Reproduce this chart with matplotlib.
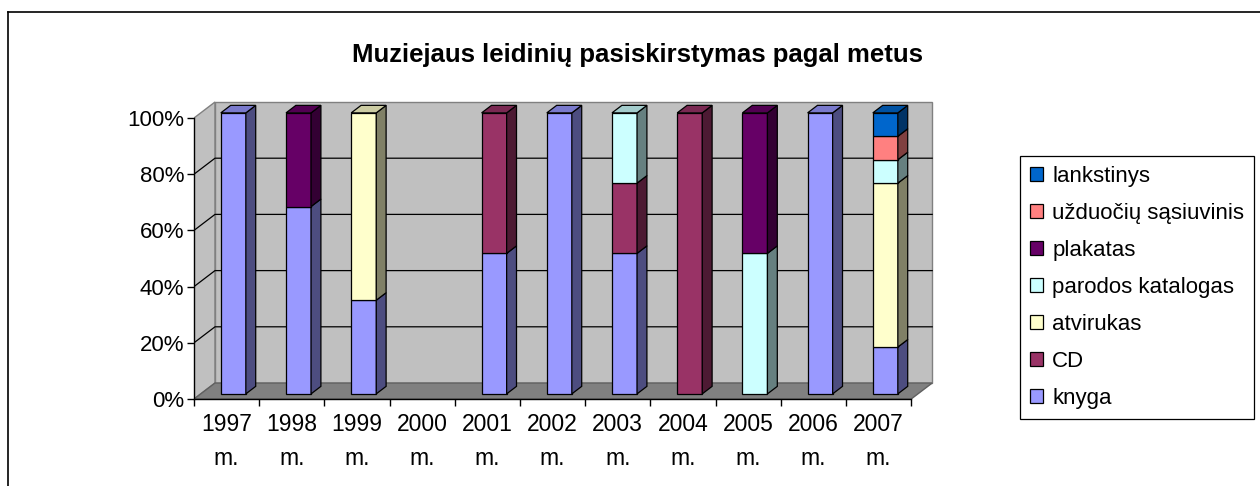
import numpy as np
import matplotlib
matplotlib.use("Agg")
import matplotlib.pyplot as plt
from matplotlib.patches import Polygon, Patch
from matplotlib.lines import Line2D
from matplotlib.colors import to_rgb

plt.rcParams["font.family"] = ["Liberation Sans", "DejaVu Sans"]

title = "Muziejaus leidinių pasiskirstymas pagal metus"
years = ["1997", "1998", "1999", "2000", "2001", "2002", "2003", "2004", "2005", "2006", "2007"]
year_labels = [f"{y}\nm." for y in years]

# leidinių skaičius pagal rūšį (rodoma kaip 100 % stulpeliai)
series = ["knyga", "CD", "atvirukas", "parodos katalogas", "plakatas",
          "užduočių sąsiuvinis", "lankstinys"]
colors = ["#9999FF", "#993366", "#FFFFCC", "#CCFFFF", "#660066", "#FF8080", "#0066CC"]
knyga = [1, 2, 1, 0, 1, 1, 2, 0, 0, 1, 2]
cd = [0, 0, 0, 0, 1, 0, 1, 1, 0, 0, 0]
atvirukas = [0, 0, 2, 0, 0, 0, 0, 0, 0, 0, 7]
parodos = [0, 0, 0, 0, 0, 0, 1, 0, 1, 0, 1]
plakatas = [0, 1, 0, 0, 0, 0, 0, 0, 1, 0, 0]
uzduociu = [0, 0, 0, 0, 0, 0, 0, 0, 0, 0, 1]
lankstinys = [0, 0, 0, 0, 0, 0, 0, 0, 0, 0, 1]

counts = np.array([knyga, cd, atvirukas, parodos, plakatas, uzduociu, lankstinys], dtype=float)
totals = counts.sum(axis=0)
pct = np.divide(counts * 100, totals, out=np.zeros_like(counts), where=totals > 0)
bottoms = np.vstack([np.zeros(len(years)), np.cumsum(pct, axis=0)[:-1]])

W, H = 1260, 486
fig = plt.figure(figsize=(W / 100, H / 100), dpi=100)

# front plane geometry in pixels
x0px, y0px = 194, 399
cat_px, pct_px = 65.2, 2.81
ax_right, ax_top = 945, 96
ax = fig.add_axes([x0px / W, (H - y0px) / H, (ax_right - x0px) / W, (y0px - ax_top) / H])
n = len(years)
ax.set_xlim(0, (ax_right - x0px) / cat_px)
ax.set_ylim(0, (y0px - ax_top) / pct_px)
ax.patch.set_visible(False)
dx, dy = 21 / cat_px, 16 / pct_px

wall = "#C0C0C0"
ax.add_patch(Polygon([(0, 0), (dx, dy), (dx, 100 + dy), (0, 100)], closed=True,
                     fc=wall, ec="#808080", lw=1, zorder=0))
ax.add_patch(Polygon([(dx, dy), (n + dx, dy), (n + dx, 100 + dy), (dx, 100 + dy)], closed=True,
                     fc=wall, ec="#808080", lw=1, zorder=0))
ax.add_patch(Polygon([(0, 0), (n, 0), (n + dx, dy), (dx, dy)], closed=True,
                     fc="#808080", ec="#606060", lw=1, zorder=0.5))
for v in range(20, 100, 20):
    ax.plot([0, dx, n + dx], [v, v + dy, v + dy], color="black", lw=0.9, zorder=1)

# 3D columns
f0, f1 = 0.32, 0.79
hw = 0.192
xc = np.arange(n) + 0.5
xl = xc + f0 * dx - hw
xr = xc + f0 * dx + hw
ddx, ddy = (f1 - f0) * dx, (f1 - f0) * dy
top_idx = [max([s for s in range(len(series)) if pct[s, i] > 0], default=-1) for i in range(n)]


def shade(c, k):
    return tuple(np.array(to_rgb(c)) * k)


for s, name in enumerate(series):
    vals = pct[s]
    bot = bottoms[s]
    mask = vals > 0
    ax.bar(xc[mask] + f0 * dx, vals[mask], width=2 * hw, bottom=bot[mask] + f0 * dy,
           color=colors[s], edgecolor="black", lw=0.9, zorder=3)
    for i in np.where(mask)[0]:
        b0 = bot[i] + f0 * dy
        b1 = b0 + vals[i]
        ax.add_patch(Polygon([(xr[i], b0), (xr[i] + ddx, b0 + ddy), (xr[i] + ddx, b1 + ddy), (xr[i], b1)],
                             closed=True, fc=shade(colors[s], 0.5), ec="black", lw=0.9, zorder=3))
        if top_idx[i] == s:
            ax.add_patch(Polygon([(xl[i], b1), (xr[i], b1), (xr[i] + ddx, b1 + ddy), (xl[i] + ddx, b1 + ddy)],
                                 closed=True, fc=shade(colors[s], 0.8), ec="black", lw=0.9, zorder=3))

for side in ["top", "right"]:
    ax.spines[side].set_visible(False)
ax.spines["left"].set_bounds(0, 100)
ax.spines["bottom"].set_bounds(0, n)
for side in ["left", "bottom"]:
    ax.spines[side].set_linewidth(1)
    ax.spines[side].set_zorder(4)

ax.set_yticks(range(0, 101, 20))
ax.set_yticklabels([f"{v}%" for v in range(0, 101, 20)])
ax.tick_params(axis="y", direction="out", length=5, width=1, labelsize=16, pad=2)
ax.set_xticks(np.arange(n + 1))
ax.set_xticklabels([])
ax.set_xticks(xc, minor=True)
ax.set_xticklabels(year_labels, minor=True)
ax.tick_params(axis="x", which="major", direction="out", length=5, width=1)
ax.tick_params(axis="x", which="minor", length=0, labelsize=16.5, pad=10)
for lbl in ax.get_xticklabels(minor=True):
    lbl.set_linespacing(1.6)

fig.text(638 / W, 1 - 55 / H, title, ha="center", va="center", fontsize=18.5, fontweight="bold")

handles = [Patch(facecolor=colors[s], edgecolor="black", lw=0.9) for s in range(len(series))][::-1]
leg = fig.legend(handles, series[::-1], loc="upper left", bbox_to_anchor=(1020 / W, 1 - 156 / H),
                 frameon=True, fancybox=False, edgecolor="black", framealpha=1, fontsize=16,
                 handlelength=0.6, handleheight=0.6, handletextpad=0.4, labelspacing=0.72,
                 borderpad=0.45, borderaxespad=0)
leg.get_frame().set_linewidth(0.9)

# chart border
fig.add_artist(Line2D([8 / W, 8 / W], [0, 1 - 12 / H], color="black", lw=1.2))
fig.add_artist(Line2D([8 / W, 1], [1 - 12 / H, 1 - 12 / H], color="black", lw=1.2))

fig.savefig("out.png", dpi=100)
